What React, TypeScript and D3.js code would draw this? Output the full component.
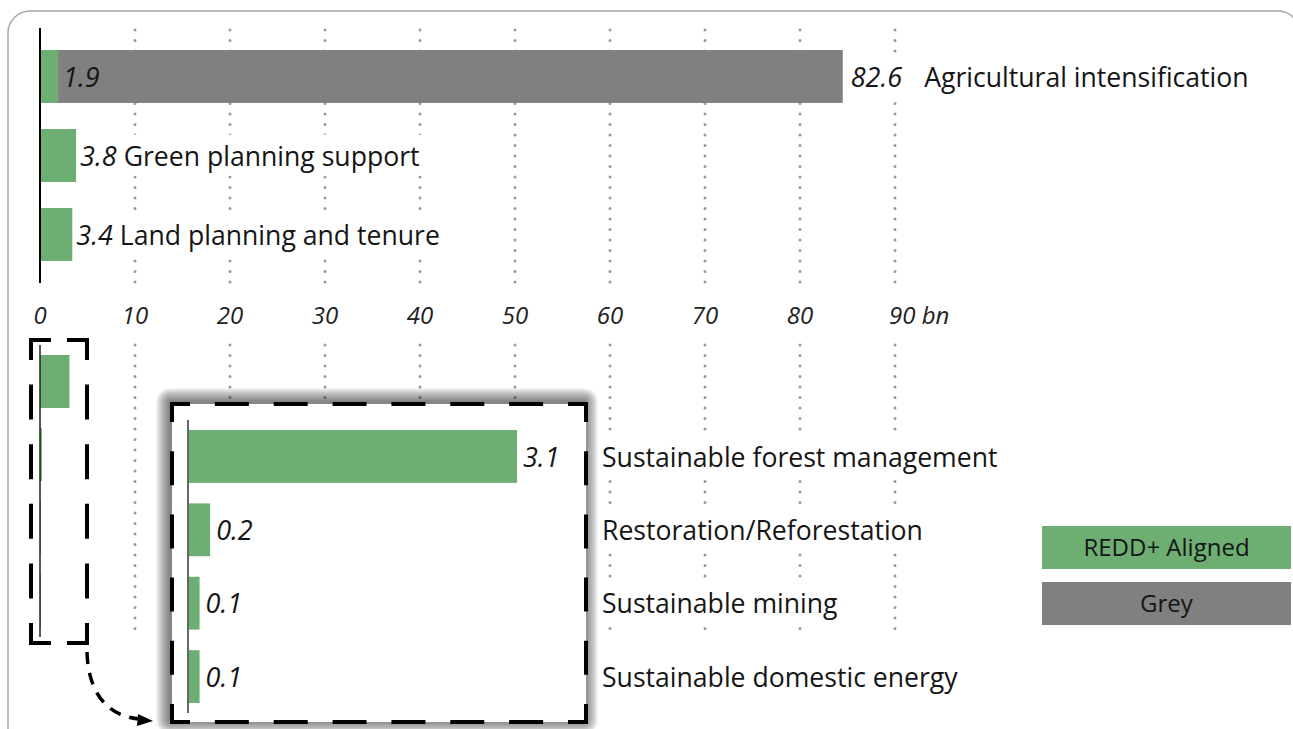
import React, { useEffect, useRef } from "react";
import * as d3 from "d3";

// ---------- data ----------
const mainCategories = [
  "Agricultural intensification",
  "Green planning support",
  "Land planning and tenure",
];
const reddValues = [1.9, 3.8, 3.4];
const greyValues = [82.6, 0, 0];

const insetCategories = [
  "Sustainable forest management",
  "Restoration/Reforestation",
  "Sustainable mining",
  "Sustainable domestic energy",
];
const insetValues = [3.1, 0.2, 0.1, 0.1];

const axisTicks = [0, 10, 20, 30, 40, 50, 60, 70, 80, 90];
const gridTicks = [10, 20, 30, 40, 50, 60, 70, 80, 90];
const unitLabel = "bn";
const legendLabels = ["REDD+ Aligned", "Grey"];

const GREEN = "#6daf73";
const GREY = "#808080";
const TEXT = "#151515";
const FONT = "'Open Sans', 'Noto Sans', sans-serif";
const CAT_SIZE = 26.6;
const VAL_SIZE = 27;

function dashedBox(
  g: any,
  x: number,
  y: number,
  w: number,
  h: number,
  c: number,
  dash: number,
  gap: number,
  sw: number
) {
  const p = d3.path();
  p.moveTo(x, y + c); p.lineTo(x, y); p.lineTo(x + c, y);
  p.moveTo(x + w - c, y); p.lineTo(x + w, y); p.lineTo(x + w, y + c);
  p.moveTo(x + w, y + h - c); p.lineTo(x + w, y + h); p.lineTo(x + w - c, y + h);
  p.moveTo(x + c, y + h); p.lineTo(x, y + h); p.lineTo(x, y + h - c);
  const side = (x0: number, y0: number, x1: number, y1: number) => {
    const L = Math.hypot(x1 - x0, y1 - y0);
    const avail = L - 2 * c;
    const n = Math.max(0, Math.round((avail - gap) / (dash + gap)));
    const gg = (avail - n * dash) / (n + 1);
    const ux = (x1 - x0) / L, uy = (y1 - y0) / L;
    for (let i = 0; i < n; i++) {
      const s = c + gg + i * (dash + gg);
      p.moveTo(x0 + ux * s, y0 + uy * s);
      p.lineTo(x0 + ux * (s + dash), y0 + uy * (s + dash));
    }
  };
  side(x, y, x + w, y);
  side(x + w, y, x + w, y + h);
  side(x, y + h, x + w, y + h);
  side(x, y, x, y + h);
  g.append("path")
    .attr("d", p.toString())
    .attr("fill", "none")
    .attr("stroke", "#000")
    .attr("stroke-width", sw)
    .attr("stroke-linejoin", "miter");
}

export default function App() {
  const ref = useRef<SVGSVGElement>(null);

  useEffect(() => {
    const svg = d3.select(ref.current as SVGSVGElement);
    svg.selectAll("*").remove();

    const root = svg.append("g") as any;

    // frame
    root
      .append("rect")
      .attr("x", 8)
      .attr("y", 11)
      .attr("width", 1292)
      .attr("height", 740)
      .attr("rx", 22)
      .attr("fill", "#fff")
      .attr("stroke", "#a8a8a8")
      .attr("stroke-width", 1.5);

    const x = d3.scaleLinear().domain([0, 90]).range([40, 895]);

    const yTop = d3
      .scaleBand<string>()
      .domain(mainCategories)
      .range([37, 274])
      .paddingInner(0.33)
      .paddingOuter(0.165);

    const yBottom = d3
      .scaleBand<string>()
      .domain(insetCategories)
      .range([345, 637])
      .paddingInner(0.274)
      .paddingOuter(0.137);

    // gridlines
    const grid = root.append("g");
    const drawGrid = (y1: number, y2: number) => {
      grid
        .selectAll(null)
        .data(gridTicks)
        .enter()
        .append("line")
        .attr("x1", (d: number) => x(d))
        .attr("x2", (d: number) => x(d))
        .attr("y1", y1)
        .attr("y2", y2 + 0.5)
        .attr("stroke", "#9a9a9a")
        .attr("stroke-width", 3)
        .attr("stroke-linecap", "round")
        .attr("stroke-dasharray", "0 10.5");
    };
    drawGrid(30, 283);
    drawGrid(345, 638);

    // top bars
    const bars = root.append("g");
    bars
      .selectAll(null)
      .data(mainCategories)
      .enter()
      .append("rect")
      .attr("x", x(0))
      .attr("y", (d: string) => yTop(d)!)
      .attr("width", (_d: string, i: number) => x(reddValues[i]) - x(0))
      .attr("height", yTop.bandwidth())
      .attr("fill", GREEN);
    bars
      .selectAll(null)
      .data(mainCategories)
      .enter()
      .append("rect")
      .attr("x", (_d: string, i: number) => x(reddValues[i]))
      .attr("y", (d: string) => yTop(d)!)
      .attr("width", (_d: string, i: number) => x(reddValues[i] + greyValues[i]) - x(reddValues[i]))
      .attr("height", yTop.bandwidth())
      .attr("fill", GREY);

    // top axis line
    root
      .append("line")
      .attr("x1", x(0))
      .attr("x2", x(0))
      .attr("y1", 28)
      .attr("y2", 283)
      .attr("stroke", "#000")
      .attr("stroke-width", 2);

    // labels with white background
    const labelRow = (
      parts: { text: string; italic: boolean; x: number; size: number }[],
      cy: number,
      withBg: boolean,
      gapAfter: number[]
    ) => {
      const grp = root.append("g");
      const bg = withBg ? grp.append("rect").attr("fill", "#fff") : null;
      let cx = parts[0].x;
      const nodes: SVGTextElement[] = [];
      parts.forEach((p, k) => {
        const start = k === 0 ? p.x : cx;
        const t = grp
          .append("text")
          .attr("x", start)
          .attr("y", cy)
          .attr("dy", "0.38em")
          .attr("font-size", p.size)
          .attr("font-style", p.italic ? "italic" : "normal")
          .attr("fill", TEXT)
          .text(p.text);
        const node = t.node() as SVGTextElement;
        nodes.push(node);
        cx = start + node.getComputedTextLength() + (gapAfter[k] || 0);
      });
      if (bg) {
        let x0 = Infinity, x1 = -Infinity, y0 = Infinity, y1 = -Infinity;
        nodes.forEach((n) => {
          const b = n.getBBox();
          x0 = Math.min(x0, b.x); x1 = Math.max(x1, b.x + b.width);
          y0 = Math.min(y0, b.y); y1 = Math.max(y1, b.y + b.height);
        });
        bg.attr("x", x0 - 3).attr("y", y0 - 2).attr("width", x1 - x0 + 8).attr("height", y1 - y0 + 4);
      }
    };

    mainCategories.forEach((cat, i) => {
      const cy = yTop(cat)! + yTop.bandwidth() / 2;
      if (greyValues[i] > 0) {
        labelRow([{ text: d3.format(".1f")(reddValues[i]), italic: true, x: x(reddValues[i]) + 5, size: VAL_SIZE }], cy, false, []);
        labelRow(
          [
            { text: d3.format(".1f")(greyValues[i]), italic: true, x: x(reddValues[i] + greyValues[i]) + 8, size: VAL_SIZE },
            { text: cat, italic: false, x: 0, size: CAT_SIZE },
          ],
          cy,
          true,
          [22]
        );
      } else {
        labelRow(
          [
            { text: d3.format(".1f")(reddValues[i]), italic: true, x: x(reddValues[i]) + 4, size: VAL_SIZE },
            { text: cat, italic: false, x: 0, size: CAT_SIZE },
          ],
          cy,
          true,
          [7]
        );
      }
    });

    // axis tick labels
    root
      .append("g")
      .selectAll(null)
      .data(axisTicks)
      .enter()
      .append("text")
      .attr("x", (d: number) => (d === 90 ? x(d) - 6 : x(d)))
      .attr("y", 324)
      .attr("text-anchor", (d: number) => (d === 90 ? "start" : "middle"))
      .attr("font-size", 24)
      .attr("font-style", "italic")
      .attr("fill", "#222")
      .text((d: number) => (d === 90 ? `${d} ${unitLabel}` : `${d}`));

    // small box (overview of small items)
    const small = root.append("g");
    small
      .selectAll(null)
      .data(insetCategories)
      .enter()
      .append("rect")
      .attr("x", x(0))
      .attr("y", (d: string) => yBottom(d)!)
      .attr("width", (_d: string, i: number) => x(insetValues[i]) - x(0))
      .attr("height", yBottom.bandwidth())
      .attr("fill", GREEN);
    small
      .append("line")
      .attr("x1", x(0))
      .attr("x2", x(0))
      .attr("y1", 345)
      .attr("y2", 637)
      .attr("stroke", "#222")
      .attr("stroke-width", 1.5);
    dashedBox(small, 31, 340, 56, 303, 20, 35, 25, 4);

    // inset (zoomed)
    const ix0 = 172, iy0 = 404, iw = 414, ih = 318;
    const inset = root.append("g");
    // soft shadow built from stacked translucent rects
    const shadowSteps = d3.range(14, 0, -1);
    inset
      .selectAll(null)
      .data(shadowSteps)
      .enter()
      .append("rect")
      .attr("x", (k: number) => ix0 - 2 - k)
      .attr("y", (k: number) => iy0 - 2 - k)
      .attr("width", (k: number) => iw + 2 * k)
      .attr("height", (k: number) => ih + 2 * k)
      .attr("rx", (k: number) => k)
      .attr("fill", "#000")
      .attr("fill-opacity", 0.045);
    inset
      .append("rect")
      .attr("x", ix0)
      .attr("y", iy0)
      .attr("width", iw)
      .attr("height", ih)
      .attr("fill", "#fff");

    const xi = d3.scaleLinear().domain([0, 3.1]).range([189, 517]);
    const yi = d3
      .scaleBand<string>()
      .domain(insetCategories)
      .range([420, 713])
      .paddingInner(0.28)
      .paddingOuter(0.1365);

    inset
      .selectAll(null)
      .data(insetCategories)
      .enter()
      .append("rect")
      .attr("x", xi(0))
      .attr("y", (d: string) => yi(d)!)
      .attr("width", (_d: string, i: number) => xi(insetValues[i]) - xi(0))
      .attr("height", yi.bandwidth())
      .attr("fill", GREEN);
    inset
      .append("line")
      .attr("x1", 188)
      .attr("x2", 188)
      .attr("y1", 420)
      .attr("y2", 713)
      .attr("stroke", "#333")
      .attr("stroke-width", 1.5);
    dashedBox(inset, ix0, iy0, iw, ih, 18, 34, 24, 4);

    insetCategories.forEach((cat, i) => {
      const cy = yi(cat)! + yi.bandwidth() / 2;
      labelRow([{ text: d3.format(".1f")(insetValues[i]), italic: true, x: xi(insetValues[i]) + 6, size: VAL_SIZE }], cy, false, []);
      labelRow([{ text: cat, italic: false, x: 602, size: CAT_SIZE }], cy, true, []);
    });

    // arrow
    root
      .append("path")
      .attr("d", "M87,652 C88,690 105,716 140,719")
      .attr("fill", "none")
      .attr("stroke", "#000")
      .attr("stroke-width", 3.5)
      .attr("stroke-dasharray", "12 9");
    root
      .append("path")
      .attr("d", "M153,721 L138,714 L137,726 Z")
      .attr("fill", "#000");

    // legend
    const leg = root.append("g");
    [GREEN, GREY].forEach((c, i) => {
      const ly = 526 + i * 56;
      leg
        .append("rect")
        .attr("x", 1042)
        .attr("y", ly)
        .attr("width", 249)
        .attr("height", 43)
        .attr("fill", c);
      leg
        .append("text")
        .attr("x", 1042 + 249 / 2)
        .attr("y", ly + 43 / 2)
        .attr("dy", "0.36em")
        .attr("text-anchor", "middle")
        .attr("font-size", 24)
        .attr("fill", TEXT)
        .text(legendLabels[i]);
    });
  }, []);

  return (
    <svg
      ref={ref}
      width={1293}
      height={729}
      style={{ position: "absolute", left: 0, top: 0, fontFamily: FONT }}
    />
  );
}
